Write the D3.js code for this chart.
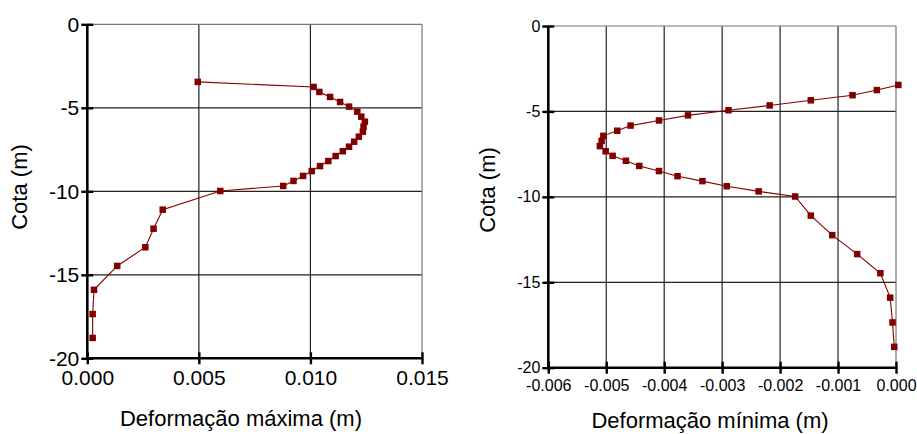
<!DOCTYPE html>
<html>
<head>
<meta charset="utf-8">
<script src="https://cdn.jsdelivr.net/npm/d3@7"></script>
<style>
  html, body { margin: 0; padding: 0; background: #fff; }
  svg { display: block; font-family: "Liberation Sans", Arial, sans-serif; }
</style>
</head>
<body>
<svg id="chart" width="917" height="434"></svg>
<script>
// ---- data ----
const depth = [-3.45, -3.75, -4.05, -4.35, -4.65, -4.93, -5.23, -5.53, -5.83, -6.13,
               -6.43, -6.73, -7.03, -7.33, -7.60, -7.89, -8.19, -8.49, -8.79, -9.08,
               -9.38, -9.68, -9.98, -11.10, -12.24, -13.35, -14.47, -15.90, -17.35, -18.78];
const defMax = [0.00495, 0.01014, 0.01040, 0.01088, 0.01133, 0.01173, 0.01210, 0.01228, 0.01244, 0.01238,
                0.01235, 0.01217, 0.01196, 0.01173, 0.01145, 0.01113, 0.01080, 0.01043, 0.01006, 0.00967,
                0.00924, 0.00878, 0.00596, 0.00338, 0.00297, 0.00260, 0.00134, 0.00030, 0.00024, 0.00024];
const defMin = [0.00004, -0.00033, -0.00075, -0.00147, -0.00218, -0.00289, -0.00359, -0.00409, -0.00458, -0.00481,
                -0.00505, -0.00508, -0.00511, -0.00501, -0.00489, -0.00466, -0.00443, -0.00409, -0.00377, -0.00334,
                -0.00292, -0.00237, -0.00174, -0.00147, -0.00110, -0.00067, -0.00027, -0.00010, -0.00006, -0.00003];
const yTicks = [0, -5, -10, -15, -20];
const xTicksMax = [0, 0.005, 0.010, 0.015];
const xTicksMin = [-0.006, -0.005, -0.004, -0.003, -0.002, -0.001, 0];
const titleMax = "Deformação máxima (m)";
const titleMin = "Deformação mínima (m)";
const titleY = "Cota (m)";

const svg = d3.select("#chart");
const red = "#800000";

function panel(cfg) {
  const x = d3.scaleLinear().domain(cfg.xDomain).range([cfg.x0, cfg.x1]);
  const y = d3.scaleLinear().domain([-20, 0]).range([cfg.y1, cfg.y0]);
  const g = svg.append("g");

  // grid
  g.append("g").selectAll("line.gx")
    .data(cfg.xTicks.slice(1, -1)).join("line")
    .attr("x1", d => x(d)).attr("x2", d => x(d))
    .attr("y1", cfg.y0).attr("y2", cfg.y1)
    .attr("stroke", "#222").attr("stroke-width", 1.2);
  g.append("g").selectAll("line.gy")
    .data(yTicks.slice(1, -1)).join("line")
    .attr("x1", cfg.x0).attr("x2", cfg.x1)
    .attr("y1", d => y(d)).attr("y2", d => y(d))
    .attr("stroke", "#222").attr("stroke-width", 1.2);

  // top / right border
  g.append("line").attr("x1", cfg.x0).attr("x2", cfg.x1).attr("y1", cfg.y0).attr("y2", cfg.y0)
    .attr("stroke", "#777").attr("stroke-width", 1.2);
  g.append("line").attr("x1", cfg.x1).attr("x2", cfg.x1).attr("y1", cfg.y0).attr("y2", cfg.y1)
    .attr("stroke", "#777").attr("stroke-width", 1.2);

  // axes
  const xAxis = d3.axisBottom(x).tickValues(cfg.xTicks).tickFormat(d3.format(".3f"))
    .tickSizeInner(6).tickSizeOuter(0).tickPadding(cfg.xPad);
  const gx = g.append("g").attr("transform", `translate(0,${cfg.y1})`).call(xAxis);
  gx.select(".domain").attr("stroke", "#000").attr("stroke-width", 2.6)
    .attr("d", `M${cfg.x0 - 1.3},0H${cfg.x1}`);
  gx.selectAll(".tick line").attr("y1", -6).attr("y2", 6).attr("stroke", "#000").attr("stroke-width", 2.4);
  gx.selectAll(".tick text").attr("font-size", cfg.tickFont).attr("fill", "#000")
    .attr("font-family", "'Liberation Sans', Arial, sans-serif")
    .text(d => d3.format(".3f")(d).replace("−", "-"));

  const yAxis = d3.axisLeft(y).tickValues(yTicks).tickFormat(d => String(d))
    .tickSizeInner(6).tickSizeOuter(0).tickPadding(cfg.yPad);
  const gy = g.append("g").attr("transform", `translate(${cfg.x0},0)`).call(yAxis);
  gy.select(".domain").attr("stroke", "#000").attr("stroke-width", 2.6)
    .attr("d", `M0,${cfg.y0}V${cfg.y1 + 1.3}`);
  gy.selectAll(".tick line").attr("x1", -6).attr("x2", 6).attr("stroke", "#000").attr("stroke-width", 2.4);
  gy.selectAll(".tick text").attr("font-size", cfg.tickFont).attr("fill", "#000")
    .attr("font-family", "'Liberation Sans', Arial, sans-serif");

  // titles
  g.append("text").attr("x", cfg.titleX).attr("y", cfg.titleBase)
    .attr("text-anchor", "middle").attr("font-size", 22).attr("fill", "#000")
    .text(cfg.title);
  g.append("text")
    .attr("transform", `translate(${cfg.yTitleX},${cfg.yTitleY}) rotate(-90)`)
    .attr("text-anchor", "middle").attr("font-size", 22).attr("fill", "#000")
    .text(titleY);

  // series
  const pts = depth.map((d, i) => [cfg.values[i], d]);
  g.append("path").datum(pts)
    .attr("fill", "none").attr("stroke", red).attr("stroke-width", 1.1)
    .attr("d", d3.line().x(d => x(d[0])).y(d => y(d[1])));
  const s = 6.5;
  g.append("g").selectAll("rect").data(pts).join("rect")
    .attr("x", d => x(d[0]) - s / 2).attr("y", d => y(d[1]) - s / 2)
    .attr("width", s).attr("height", s).attr("fill", red);
}

panel({
  xDomain: [0, 0.015], x0: 87.3, x1: 422, y0: 24.3, y1: 358.3,
  xTicks: xTicksMax, values: defMax, tickFont: 21, xPad: 6, yPad: 2,
  title: titleMax, titleX: 241, titleBase: 426, yTitleX: 27, yTitleY: 187
});
panel({
  xDomain: [-0.006, 0], x0: 548.3, x1: 896, y0: 26, y1: 367.7,
  xTicks: xTicksMin, values: defMin, tickFont: 16, xPad: 6, yPad: 2,
  title: titleMin, titleX: 710, titleBase: 428, yTitleX: 495, yTitleY: 190
});
</script>
</body>
</html>
